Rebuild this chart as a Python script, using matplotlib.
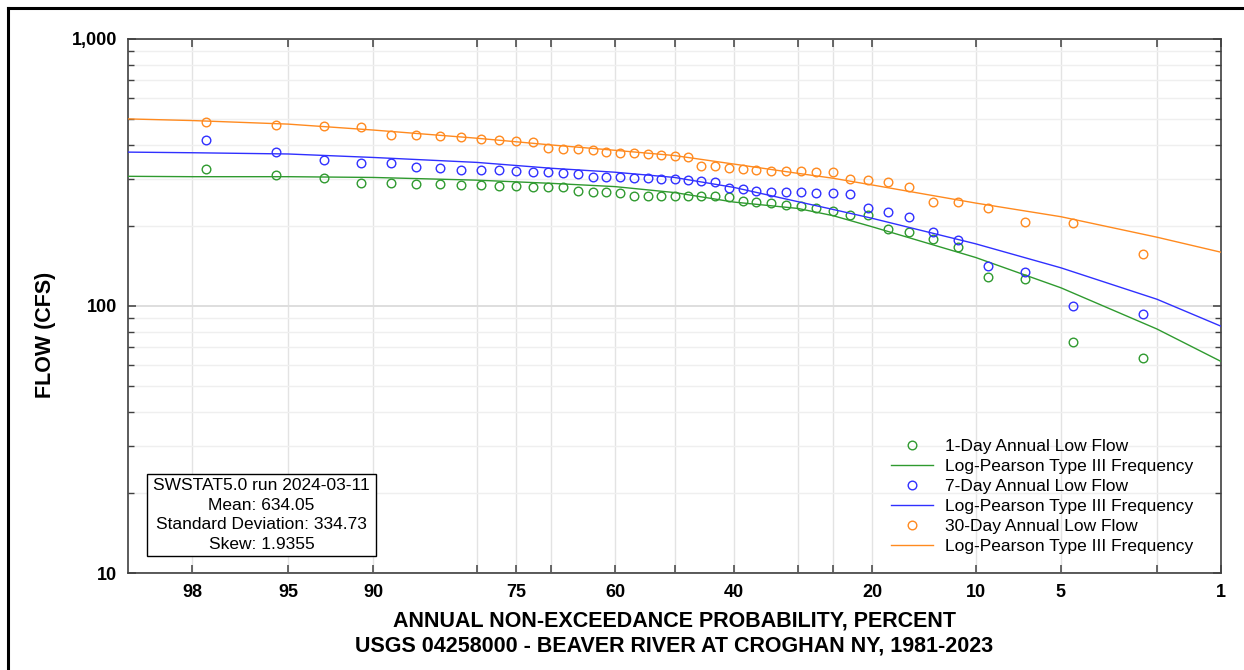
import math
import numpy as np
import matplotlib
matplotlib.use("Agg")
import matplotlib.pyplot as plt
from matplotlib.lines import Line2D
from matplotlib.patches import Rectangle
from matplotlib.ticker import FixedLocator, FixedFormatter, LogLocator, NullFormatter, NullLocator

plt.rcParams['font.family'] = ['Liberation Sans', 'DejaVu Sans']

# plotting positions (annual non-exceedance probability, percent)
prob_pts = [97.7, 95.5, 93.2, 90.9, 88.6, 86.4, 84.1, 81.8, 79.5, 77.3, 75.0,
            72.7, 70.5, 68.2, 65.9, 63.6, 61.4, 59.1, 56.8, 54.5, 52.3, 50.0,
            47.7, 45.5, 43.2, 40.9, 38.6, 36.4, 34.1, 31.8, 29.5, 27.3, 25.0,
            22.7, 20.5, 18.2, 15.9, 13.6, 11.4, 9.1, 6.8, 4.5, 2.3]

flow_1day = [327, 309, 302, 290, 290, 286, 286, 284, 284, 281, 281,
             280, 280, 280, 270, 268, 267, 266, 259, 259, 259, 259,
             259, 259, 258, 257, 247, 245, 243, 239, 237, 232, 226,
             219, 219, 195, 190, 178, 166, 128, 126, 73, 64]
flow_7day = [417, 378, 352, 344, 344, 332, 328, 323, 323, 323, 320,
             318, 317, 314, 311, 305, 305, 303, 302, 301, 299, 299,
             296, 294, 292, 276, 274, 270, 268, 268, 267, 266, 264,
             262, 233, 224, 216, 190, 177, 141, 134, 100, 93]
flow_30day = [490, 475, 472, 470, 438, 438, 433, 428, 422, 418, 416,
              412, 391, 387, 387, 384, 378, 375, 373, 370, 368, 365,
              362, 335, 335, 328, 325, 323, 320, 320, 320, 317, 317,
              299, 296, 292, 280, 246, 246, 232, 207, 205, 157]

# Log-Pearson Type III fitted curves
prob_fit = [99, 98, 95, 90, 80, 70, 60, 50, 40, 30, 25, 20, 10, 5, 2, 1]
fit_1day = [306, 305, 305, 303, 296, 288, 280, 266, 245, 232, 218, 198, 152, 117, 82, 62]
fit_7day = [377, 375, 371, 360, 345, 328, 317, 303, 278, 246, 230, 213, 171, 139, 106, 84]
fit_30day = [502, 495, 480, 456, 425, 401, 383, 366, 340, 314, 301, 284, 243, 216, 181, 159]

x_ticks = [98, 95, 90, 80, 75, 70, 60, 50, 40, 30, 25, 20, 10, 5, 2, 1]
x_labeled = [98, 95, 90, 75, 60, 40, 20, 10, 5, 1]

stats_text = "SWSTAT5.0 run 2024-03-11\nMean: 634.05\nStandard Deviation: 334.73\nSkew: 1.9355"


def norm_ppf(p):
    # Acklam's rational approximation of the inverse normal CDF
    p = np.clip(np.asarray(p, dtype=float), 1e-9, 1 - 1e-9)
    a = [-3.969683028665376e+01, 2.209460984245205e+02, -2.759285104469687e+02,
         1.383577518672690e+02, -3.066479806614716e+01, 2.506628277459239e+00]
    b = [-5.447609879822406e+01, 1.615858368580409e+02, -1.556989798598866e+02,
         6.680131188771972e+01, -1.328068155288572e+01]
    c = [-7.784894002430293e-03, -3.223964580411365e-01, -2.400758277161838e+00,
         -2.549671010331353e+00, 4.374664141464968e+00, 2.938163982698783e+00]
    d = [7.784695709041462e-03, 3.224671290700398e-01, 2.445134137142996e+00,
         3.754408661907416e+00]
    plow = 0.02425
    q = np.sqrt(-2 * np.log(np.where(p < 0.5, p, 1 - p)))
    tail = (((((c[0]*q + c[1])*q + c[2])*q + c[3])*q + c[4])*q + c[5]) / \
           ((((d[0]*q + d[1])*q + d[2])*q + d[3])*q + 1)
    tail = np.where(p < 0.5, tail, -tail)
    r0 = p - 0.5
    r = r0 * r0
    mid = (((((a[0]*r + a[1])*r + a[2])*r + a[3])*r + a[4])*r + a[5]) * r0 / \
          (((((b[0]*r + b[1])*r + b[2])*r + b[3])*r + b[4])*r + 1)
    lowtail = (p < plow) | (p > 1 - plow)
    return np.where(lowtail, tail, mid)


_erf = np.vectorize(math.erf)


def prob_forward(pct):
    return norm_ppf(np.asarray(pct, dtype=float) / 100.0)


def prob_inverse(z):
    z = np.asarray(z, dtype=float)
    return 50.0 * (1 + _erf(z / math.sqrt(2)))


W, H = 1244, 670
fig = plt.figure(figsize=(W / 100, H / 100), dpi=100)
ax = fig.add_axes([128 / W, 1 - 573 / H, (1221 - 128) / W, (573 - 39) / H])

ax.set_xscale('function', functions=(prob_forward, prob_inverse))
ax.set_yscale('log')

c_green = '#2f9a2f'
c_blue = '#3030ff'
c_orange = '#ff8a1f'

for pts, fit, col, name in [(flow_1day, fit_1day, c_green, '1-Day Annual Low Flow'),
                            (flow_7day, fit_7day, c_blue, '7-Day Annual Low Flow'),
                            (flow_30day, fit_30day, c_orange, '30-Day Annual Low Flow')]:
    ax.plot(prob_pts, pts, 'o', ms=6.2, mfc='none', mec=col, mew=1.0, label=name, zorder=3)
    ax.plot(prob_fit, fit, '-', color=col, lw=1.0, label='Log-Pearson Type III Frequency', zorder=3)

ax.set_xlim(99, 1)
ax.set_ylim(10, 1000)

ax.xaxis.set_major_locator(FixedLocator(x_ticks))
ax.xaxis.set_major_formatter(FixedFormatter([str(t) if t in x_labeled else '' for t in x_ticks]))
ax.xaxis.set_minor_locator(NullLocator())

ax.yaxis.set_major_locator(FixedLocator([10, 100, 1000]))
ax.yaxis.set_major_formatter(FixedFormatter(['10', '100', '1,000']))
ax.yaxis.set_minor_locator(LogLocator(base=10, subs=np.arange(2, 10)))
ax.yaxis.set_minor_formatter(NullFormatter())

ax.tick_params(axis='both', which='major', direction='in', length=6, width=1.1,
               color='#404040', top=True, right=True, labelsize=13, pad=8)
ax.tick_params(axis='y', which='minor', direction='in', length=4, width=1.0,
               color='#404040', right=True)
for lab in ax.get_xticklabels() + ax.get_yticklabels():
    lab.set_fontweight('bold')

ax.grid(True, axis='x', which='major', color='#e3e3e3', lw=1.0)
ax.grid(True, axis='y', which='major', color='#dedede', lw=1.4)
ax.grid(True, axis='y', which='minor', color='#efefef', lw=1.0)
ax.set_axisbelow(True)

for sp in ax.spines.values():
    sp.set_color('#404040')
    sp.set_linewidth(1.2)

ax.set_ylabel('FLOW (CFS)', fontsize=15.5, fontweight='bold')
ax.yaxis.set_label_coords(56 / W, 0.5, transform=fig.transFigure)
fig.text(674.5 / W, 1 - 633.5 / H,
         "ANNUAL NON-EXCEEDANCE PROBABILITY, PERCENT\nUSGS 04258000 - BEAVER RIVER AT CROGHAN NY, 1981-2023",
         ha='center', va='center', fontsize=15.5, fontweight='bold', linespacing=1.2)

leg = ax.legend(loc='upper left', bbox_to_anchor=(891 / W, 1 - 438.5 / H),
                bbox_transform=fig.transFigure, frameon=False, fontsize=12.5,
                numpoints=1, handlelength=2.4, handletextpad=0.7,
                labelspacing=0.28, borderpad=0, borderaxespad=0)

# statistics box
fig.add_artist(Rectangle((147 / W, 1 - 556 / H), (376 - 147) / W, (556 - 474) / H,
                         transform=fig.transFigure, fc='white', ec='black', lw=1.0, zorder=5))
fig.text(261.5 / W, 1 - 515 / H, stats_text, ha='center', va='center',
         fontsize=12.5, linespacing=1.39, zorder=6)

# outer frame of the original figure (left and top edges)
fig.add_artist(Line2D([8 / W, 8 / W], [0, 1 - 8 / H], transform=fig.transFigure,
                      color='black', lw=2.2))
fig.add_artist(Line2D([8 / W, 1], [1 - 8 / H, 1 - 8 / H], transform=fig.transFigure,
                      color='black', lw=2.2))

fig.savefig('out.png', dpi=100, facecolor='white')
